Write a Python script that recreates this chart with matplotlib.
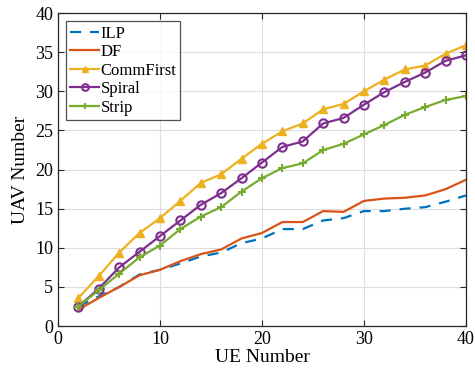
import matplotlib
matplotlib.use('Agg')
import matplotlib.pyplot as plt

plt.rcParams['font.family'] = ['Liberation Serif', 'DejaVu Serif']
plt.rcParams['mathtext.fontset'] = 'stix'

ue = [2, 4, 6, 8, 10, 12, 14, 16, 18, 20, 22, 24, 26, 28, 30, 32, 34, 36, 38, 40]

ilp = [2.5, 3.8, 5.0, 6.6, 7.2, 8.0, 8.9, 9.4, 10.6, 11.2, 12.4, 12.4, 13.5, 13.8, 14.7, 14.7, 15.0, 15.2, 15.9, 16.7]
df = [2.1, 3.6, 5.0, 6.5, 7.2, 8.3, 9.2, 9.8, 11.2, 11.9, 13.3, 13.3, 14.7, 14.6, 16.0, 16.3, 16.4, 16.7, 17.5, 18.7]
commfirst = [3.6, 6.4, 9.4, 11.9, 13.8, 16.0, 18.3, 19.4, 21.4, 23.3, 24.9, 25.9, 27.7, 28.4, 30.0, 31.5, 32.8, 33.3, 34.8, 35.9]
spiral = [2.5, 4.8, 7.5, 9.5, 11.5, 13.5, 15.5, 17.0, 18.9, 20.9, 22.9, 23.6, 25.9, 26.6, 28.3, 29.9, 31.2, 32.4, 33.9, 34.6]
strip = [2.5, 4.6, 6.7, 8.8, 10.3, 12.4, 14.0, 15.2, 17.2, 18.9, 20.2, 20.8, 22.5, 23.3, 24.5, 25.7, 27.0, 28.0, 28.9, 29.4]

fig = plt.figure(figsize=(4.75, 3.74), dpi=100)
ax = fig.add_axes([0.122, 0.128, 0.859, 0.837])

ax.plot(ue, ilp, '--', color='#0072BD', lw=1.6, dashes=(5, 4), label='ILP')
ax.plot(ue, df, '-', color='#D95319', lw=1.6, label='DF')
ax.plot(ue, commfirst, '-^', color='#EDB120', lw=1.6, ms=6, label='CommFirst')
ax.plot(ue, spiral, '-o', color='#7E2F8E', lw=1.6, ms=6, mfc='none', mew=1.5, label='Spiral')
ax.plot(ue, strip, '-+', color='#77AC30', lw=1.6, ms=6, mew=1.5, label='Strip')

ax.set_xlim(0, 40)
ax.set_ylim(0, 40)
ax.set_xticks([0, 10, 20, 30, 40])
ax.set_yticks(range(0, 41, 5))
ax.grid(True, color='#dddddd', lw=0.8)
ax.set_axisbelow(True)
ax.tick_params(direction='in', top=True, right=True, labelsize=13, length=4, color='#262626')
for s in ax.spines.values():
    s.set_color('#262626')
    s.set_linewidth(0.9)

ax.set_xlabel('UE Number', fontsize=14, labelpad=1)
ax.set_ylabel('UAV Number', fontsize=14, labelpad=4)

leg = ax.legend(loc='upper left', fontsize=12, fancybox=False, edgecolor='#262626',
                handlelength=1.7, handletextpad=0.1, labelspacing=0.15, borderpad=0.25,
                borderaxespad=0.5, markerscale=0.8)
leg.get_frame().set_linewidth(0.9)

fig.savefig('out.png', dpi=100)
